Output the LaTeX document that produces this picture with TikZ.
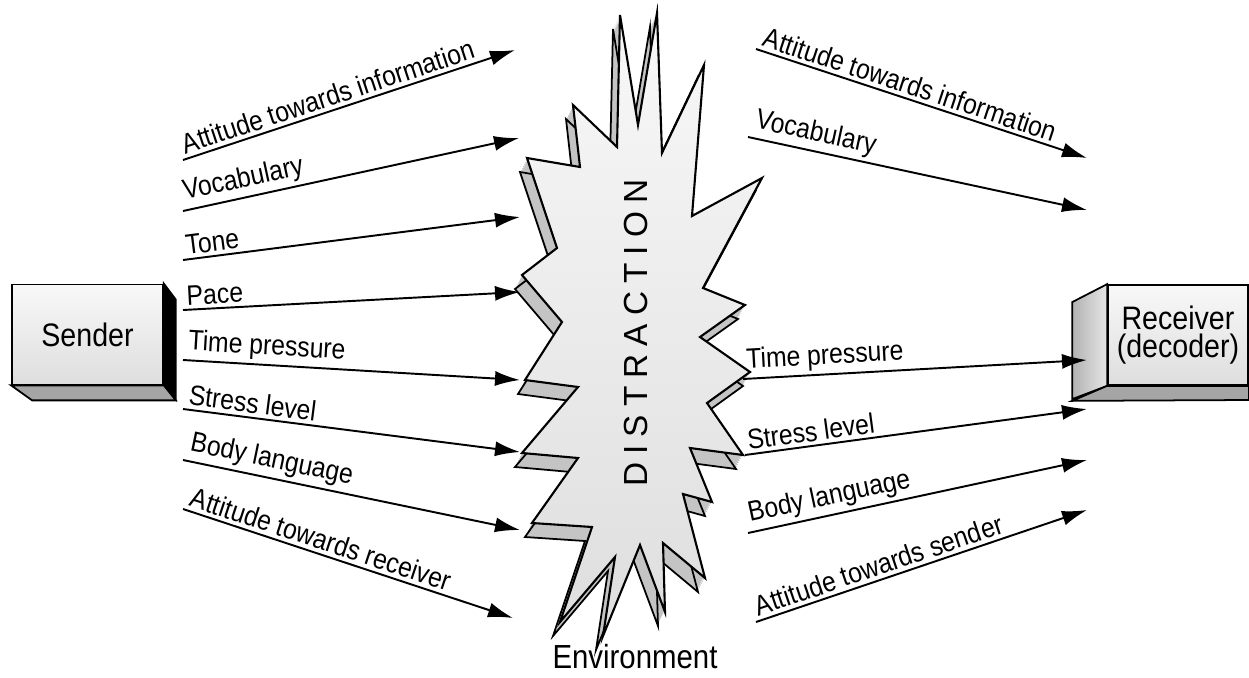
\documentclass[tikz,border=0pt]{standalone}
\usepackage{fontspec}
\setmainfont{Liberation Sans}[FakeStretch=0.88]
\newfontfamily\burstfont{Liberation Sans}
\usepackage{xcolor}
\usetikzlibrary{positioning,calc,arrows.meta}
\definecolor{facelight}{RGB}{248,248,248}
\definecolor{facedark}{RGB}{222,222,222}
\definecolor{sidegray}{RGB}{196,196,196}
\definecolor{floorgray}{RGB}{165,165,165}

% outline of the distraction burst (front face)
\newcommand\burstpath{(573,105) -- (580,167) -- (527,158) -- (557,248) -- (522,275)
  -- (562,322) -- (525,380) -- (578,387) -- (522,453) -- (578,458) -- (532,523)
  -- (592,527) -- (560,622) -- (615,557) -- (603,636) -- (640,545) -- (665,612)
  -- (663,543) -- (705,578) -- (683,494) -- (712,502) -- (690,448) -- (743,455)
  -- (707,403) -- (750,372) -- (700,337) -- (745,305) -- (703,288) -- (762,178)
  -- (692,216) -- (704,65) -- (662,153) -- (657,13) -- (638,125) -- (620,15)
  -- (617,147) -- cycle}

\tikzset{
  flow/.style={line width=1.1pt,-{Latex[length=5mm,width=3mm]}},
  lbl/.style={pos=0,sloped,anchor=south west,inner sep=2pt,font=\fontsize{16}{18}\selectfont},
  box/.style={draw,line width=1pt,top color=facelight,bottom color=facedark,
    minimum height=2cm,align=center,font=\fontsize{18.5}{19}\selectfont},
  burstfront/.style={draw,line width=1.2pt,line join=miter,top color=facelight,bottom color=facedark},
}

\begin{document}
\begin{tikzpicture}[x=0.02cm,y=-0.02cm]
    \useasboundingbox (0,0) rectangle (1249,677);

    % Boxes
    \node[box,minimum width=3.02cm] (sender) at (87.5,334.5) {Sender};
    \filldraw[line width=1pt] (sender.north east) -- ++(12,16) -- ++(0,100) -- (sender.south east) -- cycle;
    \filldraw[line width=1pt,fill=floorgray] (sender.south west) -- (sender.south east) -- ++(12,15)
        -- ($(sender.south west)+(21,15)$) -- cycle;

    \node[box,minimum width=2.8cm] (receiver) at (1178,335) {Receiver\\[-3pt](decoder)};
    \draw[line width=1pt,left color=gray!60,right color=gray!20] (receiver.north west) -- ++(-35,18)
        -- ++(0,97) -- (receiver.south west) -- cycle;
    \filldraw[line width=1pt,fill=floorgray] (receiver.south west) -- ++(-35,15) -- (1249,400)
        -- (receiver.south east) -- cycle;

    % Burst
    \foreach \t in {1,...,7} \fill[sidegray,shift={(-\t,2*\t)}] \burstpath;
    \draw[line width=1pt,line join=miter,shift={(-7,14)}] \burstpath;
    \draw[burstfront] \burstpath;
    \node[rotate=90,font=\burstfont\fontsize{19}{21}\selectfont] (word) at (636,333)
        {D\kern4.6pt I\kern4.6pt S\kern4.6pt T\kern4.6pt R\kern4.6pt A\kern4.6pt C\kern4.6pt T\kern4.6pt I\kern4.6pt O\kern4.6pt N};
    \node[font=\fontsize{19}{21}\selectfont] (env) at (635,657) {Environment};

    % Sender side
    \coordinate (l1s) at (183,160); \coordinate (l1e) at (515,50);
    \coordinate (l2s) at (183,211); \coordinate (l2e) at (519,138);
    \coordinate (l3s) at (183,260); \coordinate (l3e) at (520,217);
    \coordinate (l4s) at (183,310); \coordinate (l4e) at (520,292);
    \coordinate (l5s) at (183,360); \coordinate (l5e) at (520,380);
    \coordinate (l6s) at (183,409); \coordinate (l6e) at (520,452);
    \coordinate (l7s) at (183,460); \coordinate (l7e) at (520,530);
    \coordinate (l8s) at (183,509); \coordinate (l8e) at (513,618);
    \draw[flow] (l1s) -- (l1e) node[lbl] (lt1) {Attitude towards information};
    \draw[flow] (l2s) -- (l2e) node[lbl] (lt2) {Vocabulary};
    \draw[flow] (l3s) -- (l3e) node[lbl] (lt3) {Tone};
    \draw[flow] (l4s) -- (l4e) node[lbl] (lt4) {Pace};
    \draw[flow] (l5s) -- (l5e) node[lbl] (lt5) {Time pressure};
    \draw[flow] (l6s) -- (l6e) node[lbl] (lt6) {Stress level};
    \draw[flow] (l7s) -- (l7e) node[lbl] (lt7) {Body language};
    \draw[flow] (l8s) -- (l8e) node[lbl] (lt8) {Attitude towards receiver};

    % Receiver side
    \coordinate (r1s) at (756,49);  \coordinate (r1e) at (1087,158);
    \coordinate (r2s) at (748,137); \coordinate (r2e) at (1087,210);
    \coordinate (r3s) at (743,379); \coordinate (r3e) at (1087,360);
    \coordinate (r4s) at (745,455); \coordinate (r4e) at (1087,409);
    \coordinate (r5s) at (748,533); \coordinate (r5e) at (1087,460);
    \coordinate (r6s) at (756,622); \coordinate (r6e) at (1087,510);
    \draw[flow] (r1s) -- (r1e) node[lbl] (rt1) {Attitude towards information};
    \draw[flow] (r2s) -- (r2e) node[lbl] (rt2) {Vocabulary};
    \draw[flow] (r3s) -- (r3e) node[lbl] (rt3) {Time pressure};
    \draw[flow] (r4s) -- (r4e) node[lbl] (rt4) {Stress level};
    \draw[flow] (r5s) -- (r5e) node[lbl] (rt5) {Body language};
    \draw[flow] (r6s) -- (r6e) node[lbl] (rt6) {Attitude towards sender};
\end{tikzpicture}
\end{document}
